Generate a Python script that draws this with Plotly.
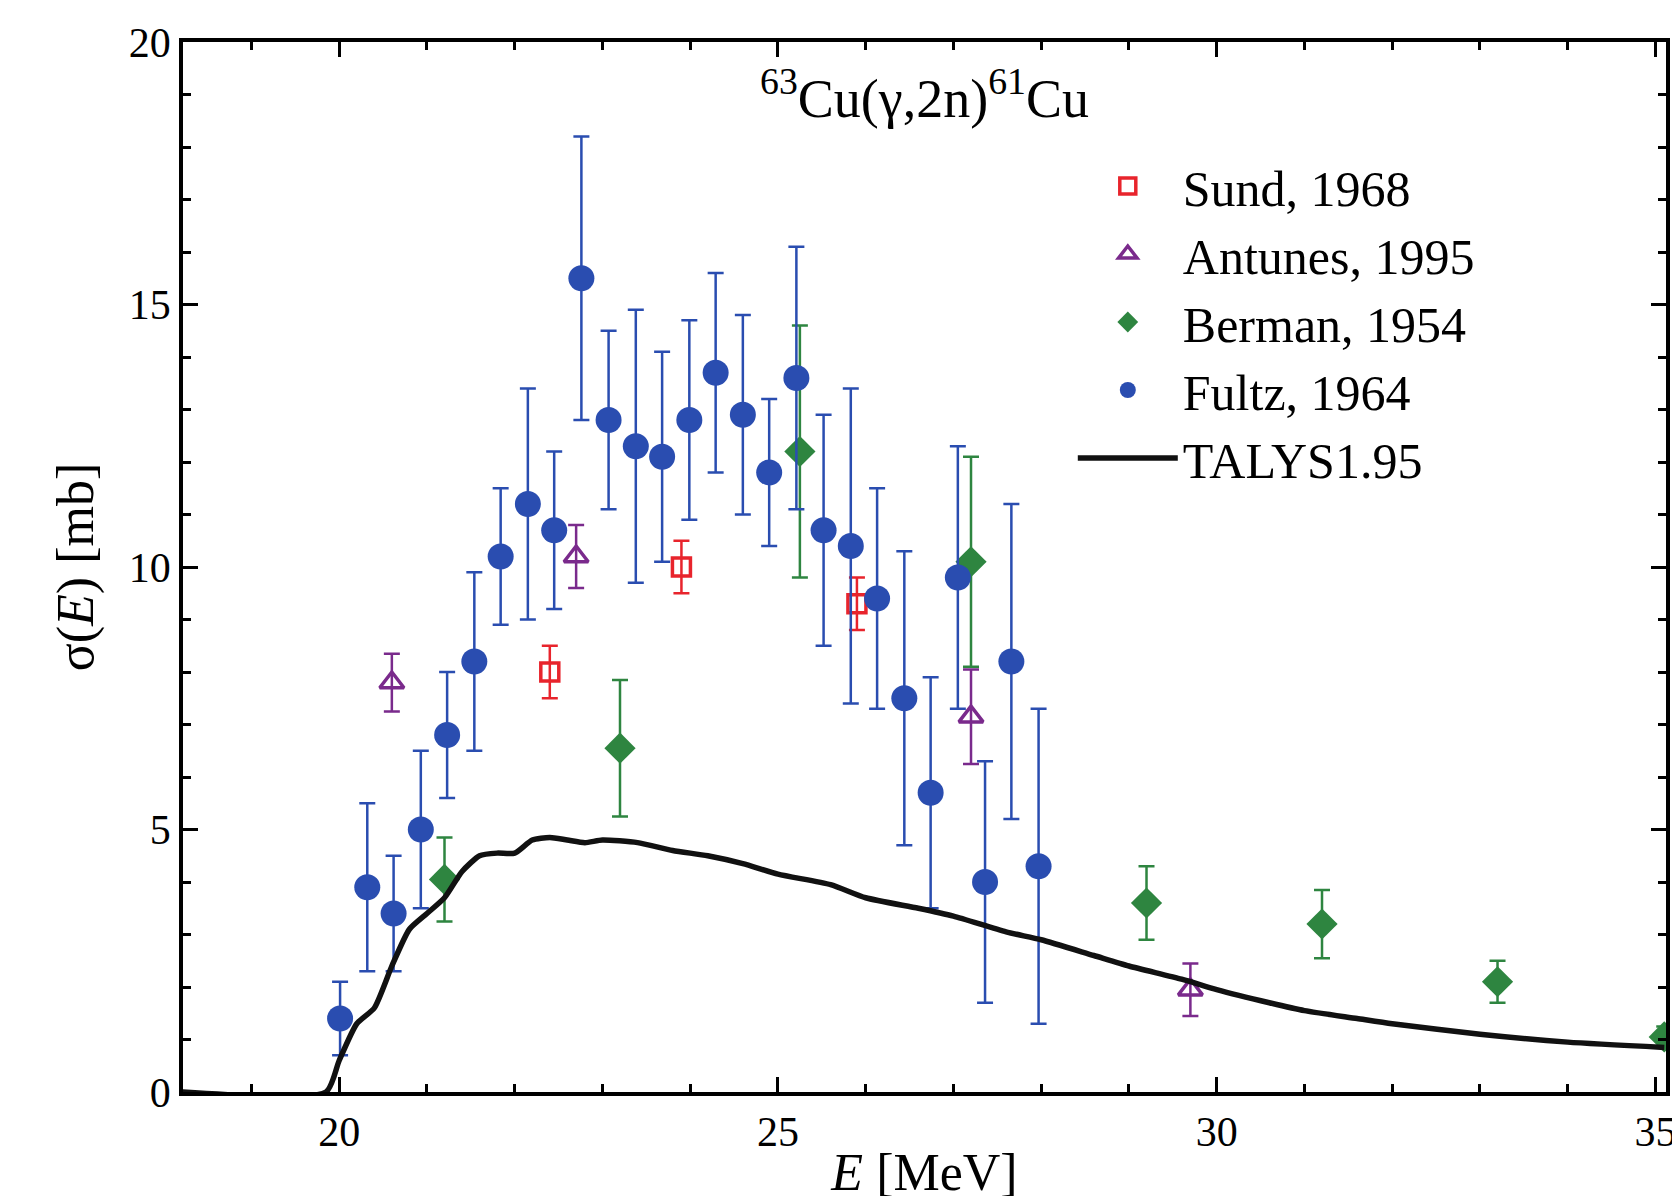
import plotly.graph_objects as go

fultz_e = [20.01, 20.32, 20.62, 20.93, 21.23, 21.54, 21.84, 22.15, 22.45, 22.76, 23.07, 23.38, 23.68, 23.99,
           24.29, 24.6, 24.9, 25.21, 25.52, 25.83, 26.13, 26.44, 26.74, 27.05, 27.36, 27.66, 27.97]
fultz_s = [1.4, 3.9, 3.4, 5.0, 6.8, 8.2, 10.2, 11.2, 10.7, 15.5, 12.8, 12.3, 12.1, 12.8,
           13.7, 12.9, 11.8, 13.6, 10.7, 10.4, 9.4, 7.5, 5.7, 9.8, 4.0, 8.2, 4.3]
fultz_hi = [2.1, 5.5, 4.5, 6.5, 8.0, 9.9, 11.5, 13.4, 12.2, 18.2, 14.5, 14.9, 14.1, 14.7,
            15.6, 14.8, 13.2, 16.1, 12.9, 13.4, 11.5, 10.3, 7.9, 12.3, 6.3, 11.2, 7.3]
fultz_lo = [0.7, 2.3, 2.3, 3.5, 5.6, 6.5, 8.9, 9.0, 9.2, 12.8, 11.1, 9.7, 10.1, 10.9,
            11.8, 11.0, 10.4, 11.1, 8.5, 7.4, 7.3, 4.7, 3.5, 7.3, 1.7, 5.2, 1.3]

sund_e = [22.4, 23.9, 25.9]
sund_s = [8.0, 10.0, 9.3]
sund_err = [0.5, 0.5, 0.5]

antunes_e = [20.6, 22.7, 27.2, 29.7]
antunes_s = [7.8, 10.2, 7.15, 1.95]
antunes_err = [0.55, 0.6, 0.9, 0.5]

berman_e = [21.2, 23.2, 25.25, 27.2, 29.2, 31.2, 33.2, 35.1]
berman_s = [4.05, 6.55, 12.2, 10.1, 3.6, 3.2, 2.1, 1.05]
berman_err = [0.8, 1.3, 2.4, 2.0, 0.7, 0.65, 0.4, 0.2]

talys_e = [18.2, 19.85, 20.0, 20.2, 20.4, 20.6, 20.8, 21.0, 21.2, 21.4, 21.6, 21.8, 22.0, 22.2, 22.4,
           22.6, 22.8, 23.0, 23.4, 23.8, 24.2, 24.6, 25.0, 25.6, 26.0, 26.6, 27.0, 27.6, 28.0,
           28.6, 29.0, 29.6, 30.0, 30.6, 31.0, 31.6, 32.0, 33.0, 34.0, 35.1]
talys_s = [0, 0, 0.6, 1.3, 1.6, 2.4, 3.1, 3.4, 3.7, 4.2, 4.5, 4.55, 4.55, 4.8, 4.85,
           4.8, 4.75, 4.8, 4.75, 4.6, 4.5, 4.35, 4.15, 3.95, 3.7, 3.5, 3.35, 3.05, 2.9,
           2.6, 2.4, 2.15, 1.95, 1.7, 1.55, 1.4, 1.3, 1.1, 0.95, 0.85]

RED, PURPLE, GREEN, BLUE = "#e8242c", "#7a2a8c", "#2e8540", "#2a4db0"
FONT = "Liberation Serif, Times New Roman, serif"

fig = go.Figure()
fig.add_trace(go.Scatter(x=sund_e, y=sund_s, mode="markers", name="Sund, 1968",
    marker=dict(symbol="square-open", size=18, color=RED, line=dict(width=3.5)),
    error_y=dict(type="data", array=sund_err, color=RED, thickness=2.5, width=8)))
fig.add_trace(go.Scatter(x=antunes_e, y=antunes_s, mode="markers", name="Antunes, 1995",
    marker=dict(symbol="triangle-up-open", size=21, color=PURPLE, line=dict(width=3.5)),
    error_y=dict(type="data", array=antunes_err, color=PURPLE, thickness=2.5, width=8)))
fig.add_trace(go.Scatter(x=berman_e, y=berman_s, mode="markers", name="Berman, 1954",
    marker=dict(symbol="diamond", size=24, color=GREEN),
    error_y=dict(type="data", array=berman_err, color=GREEN, thickness=2.5, width=8)))
fig.add_trace(go.Scatter(x=fultz_e, y=fultz_s, mode="markers", name="Fultz, 1964",
    marker=dict(symbol="circle", size=26, color=BLUE),
    error_y=dict(type="data", symmetric=False,
                 array=[h - s for h, s in zip(fultz_hi, fultz_s)],
                 arrayminus=[s - l for s, l in zip(fultz_s, fultz_lo)],
                 color=BLUE, thickness=2.5, width=8)))
fig.add_trace(go.Scatter(x=talys_e, y=talys_s, mode="lines", name="TALYS1.95",
    line=dict(color="#111111", width=5.5, shape="spline", smoothing=0.6)))

axis = dict(showline=True, linewidth=3.5, linecolor="black", mirror="allticks", ticks="inside",
            ticklen=15, tickwidth=3, tickcolor="black", showgrid=False, zeroline=False,
            tickfont=dict(size=42, family=FONT, color="black"),
            minor=dict(ticks="inside", ticklen=8, tickwidth=3, tickcolor="black"))
fig.update_xaxes(axis, range=[18.22, 35.12], tickvals=[20, 25, 30, 35], minor_dtick=1,
                 title=dict(text="<i>E</i> [MeV]", font=dict(size=52, family=FONT), standoff=0))
fig.update_yaxes(axis, range=[0, 20], dtick=5, minor_dtick=1,
                 title=dict(text="σ(<i>E</i>) [mb]", font=dict(size=52, family=FONT), standoff=20))
fig.add_annotation(x=0.5, y=0.985, xref="paper", yref="paper", xanchor="center", yanchor="top",
                   showarrow=False, font=dict(size=54, family=FONT, color="black"),
                   text="<sup>63</sup>Cu(γ,2n)<sup>61</sup>Cu")
fig.update_layout(width=1680, height=1196, plot_bgcolor="white", paper_bgcolor="white",
                  margin=dict(l=175, r=17, t=24, b=108),
                  font=dict(family=FONT, color="black"),
                  legend=dict(x=0.6, y=0.9, xanchor="left", yanchor="top", bgcolor="rgba(0,0,0,0)",
                              font=dict(size=50, family=FONT), itemwidth=100, tracegroupgap=0))
fig.write_html("out.html")
